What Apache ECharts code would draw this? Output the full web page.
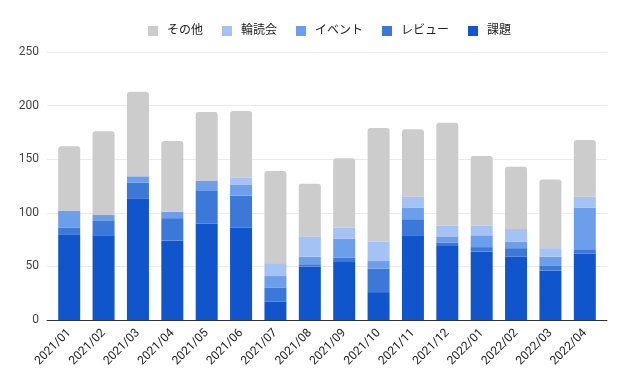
<!DOCTYPE html>
<html><head><meta charset="utf-8">
<script src="https://cdn.jsdelivr.net/npm/echarts@6/dist/echarts.min.js"></script>
<style>html,body{margin:0;padding:0;background:#fff}#c{width:627px;height:382px}</style>
</head><body><div id="c"></div>
<script>
const categories = ["2021/01","2021/02","2021/03","2021/04","2021/05","2021/06","2021/07","2021/08","2021/09","2021/10","2021/11","2021/12","2022/01","2022/02","2022/03","2022/04"];
const kadai   = [80,79,113,74,90,86,17,50,54,26,79,69,64,59,46,62];
const review  = [6,14,15,21,31,30,13,2,4,22,15,3,4,8,5,4];
const event   = [16,5,6,6,9,10,11,7,18,7,11,6,11,6,8,39];
const rindoku = [0,0,0,0,0,7,12,19,10,18,10,10,9,12,8,10];
const sonota  = [60,78,79,66,64,62,86,49,65,106,63,96,65,58,64,53];
const yTicks = [0,50,100,150,200,250];

const FONT = 'Roboto, "Noto Sans CJK JP", sans-serif';
const names = ["課題","レビュー","イベント","輪読会","その他"];
const colors = ["#1155cc","#3c78d8","#6d9eeb","#a4c2f4","#cccccc"];
const datas = [kadai, review, event, rindoku, sonota];
const yMin = yTicks[0], yMax = yTicks[yTicks.length-1];

const chart = echarts.init(document.getElementById('c'));
chart.setOption({
  animation: false,
  textStyle: { fontFamily: FONT },
  legend: {
    data: ["その他","輪読会","イベント","レビュー","課題"],
    top: 20, left: 143,
    itemWidth: 10, itemHeight: 10, itemGap: 19,
    icon: 'rect',
    textStyle: { fontSize: 12, color: '#222', fontFamily: FONT, padding: [0,0,0,4] }
  },
  grid: [
    { left: 47, right: 20, top: 52, bottom: 62 },
    { left: 52, right: 25, top: 52, bottom: 62 }
  ],
  xAxis: [
    { type: 'category', gridIndex: 0, data: categories,
      axisLine: { lineStyle: { color: '#333', width: 1 } },
      axisTick: { show: false }, axisLabel: { show: false } },
    { type: 'category', gridIndex: 1, data: categories,
      axisLine: { show: false }, axisTick: { show: false },
      axisLabel: { rotate: 45, fontSize: 12, color: '#222', margin: 11, interval: 0, fontFamily: FONT } }
  ],
  yAxis: [
    { type: 'value', gridIndex: 0, min: yMin, max: yMax, interval: 50,
      axisLine: { show: false }, axisTick: { show: false },
      splitLine: { lineStyle: { color: '#ebebeb' } },
      axisLabel: { fontSize: 12, color: '#444', margin: 8, fontFamily: FONT } },
    { type: 'value', gridIndex: 1, min: yMin, max: yMax, interval: 50, show: false,
      splitLine: { show: false } }
  ],
  series: names.map((n, i) => ({
    name: n, type: 'bar', stack: 'total', data: datas[i],
    xAxisIndex: 1, yAxisIndex: 1,
    barWidth: '64%',
    itemStyle: { color: colors[i], borderRadius: i === 4 ? [3,3,0,0] : 0 }
  }))
});
</script></body></html>
